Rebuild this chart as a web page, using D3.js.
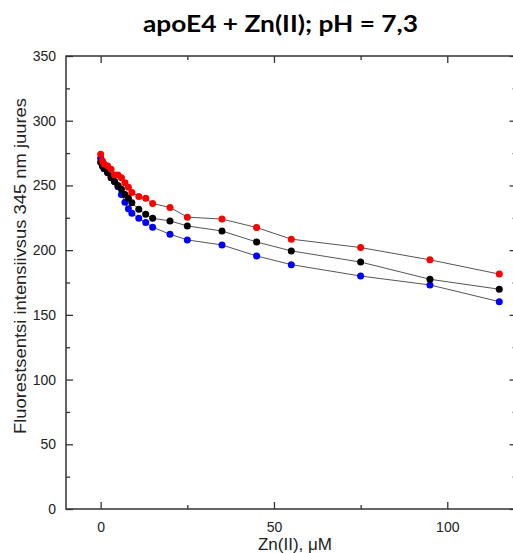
<!DOCTYPE html>
<html>
<head>
<meta charset="utf-8">
<script src="https://cdn.jsdelivr.net/npm/d3@7"></script>
<style>
  html, body { margin: 0; padding: 0; background: #fff; }
  svg { display: block; }
</style>
</head>
<body>
<div id="chart"></div>
<script>
// ---- data ----
const zincConc = [0, 0.5, 1, 2, 3, 4, 5, 6, 7, 8, 9, 11, 13, 15, 20, 25, 35, 45, 55, 75, 95, 115];
const redSeries   = [274, 269, 266.5, 265, 262.5, 258, 258, 256, 252, 248.5, 244.5, 241.5, 240, 236, 233, 225.5, 224, 217.5, 208.5, 202, 192.5, 181.5];
const blackSeries = [268, 265, 263, 260, 256, 253, 250, 247, 243, 240, 236.7, 231.6, 227.7, 224.6, 222.6, 218.7, 214.8, 206.3, 199.4, 190.8, 177.5, 169.8];
const blueSeries  = [271, 266, 263, 260, 257, 253, 249, 243, 237, 232, 228.5, 224.6, 221.3, 217.7, 212.3, 207.9, 204, 195.5, 188.8, 180, 173.1, 160.2];
const xTicks = [0, 50, 100];
const xMinorTicks = [25, 75];
const yTicks = [0, 50, 100, 150, 200, 250, 300, 350];
const yMinorTicks = [25, 75, 125, 175, 225, 275, 325];
const titleText = "apoE4 + Zn(II); pH = 7,3";
const xLabel = "Zn(II), μM";
const yLabel = "Fluorestsentsi intensiivsus 345 nm juures";

const W = 513, H = 553;
const pLeft = 66, pRight = 516.6, pTop = 56, pBottom = 509;

const svg = d3.select("#chart").append("svg").attr("width", W).attr("height", H);

const x = d3.scaleLinear().domain([-10, 120]).range([pLeft, pRight]);
const y = d3.scaleLinear().domain([0, 350]).range([pBottom, pTop]);

// title
svg.append("text").attr("x", 280.5).attr("y", 32).attr("text-anchor", "middle")
  .attr("font-family", "Lato, 'Open Sans', sans-serif").attr("font-weight", "bold")
  .attr("font-size", 23).attr("textLength", 275).attr("lengthAdjust", "spacingAndGlyphs")
  .attr("fill", "#000").text(titleText);

const axisColor = "#333";
function styleAxis(g) {
  g.select(".domain").remove();
  g.selectAll(".tick line").attr("stroke", axisColor).attr("stroke-width", 1.3);
  g.selectAll("text").attr("font-family", "'Liberation Sans', Arial, sans-serif").attr("fill", "#222");
}

// bottom
svg.append("g").attr("transform", `translate(0,${pBottom})`)
  .call(d3.axisBottom(x).tickValues(xTicks).tickSize(-7).tickPadding(13).tickFormat(d3.format("d")))
  .call(styleAxis).call(g => g.selectAll("text").attr("font-size", 14));
svg.append("g").attr("transform", `translate(0,${pBottom})`)
  .call(d3.axisBottom(x).tickValues(xMinorTicks).tickSize(-4).tickFormat(""))
  .call(styleAxis);
// top
svg.append("g").attr("transform", `translate(0,${pTop})`)
  .call(d3.axisTop(x).tickValues(xTicks).tickSize(-7).tickFormat(""))
  .call(styleAxis);
svg.append("g").attr("transform", `translate(0,${pTop})`)
  .call(d3.axisTop(x).tickValues(xMinorTicks).tickSize(-4).tickFormat(""))
  .call(styleAxis);
// left
svg.append("g").attr("transform", `translate(${pLeft},0)`)
  .call(d3.axisLeft(y).tickValues(yTicks).tickSize(-7).tickPadding(10).tickFormat(d3.format("d")))
  .call(styleAxis).call(g => g.selectAll("text").attr("font-size", 14));
svg.append("g").attr("transform", `translate(${pLeft},0)`)
  .call(d3.axisLeft(y).tickValues(yMinorTicks).tickSize(-4).tickFormat(""))
  .call(styleAxis);
// right
svg.append("g").attr("transform", `translate(${pRight},0)`)
  .call(d3.axisRight(y).tickValues(yTicks).tickSize(-7).tickFormat(""))
  .call(styleAxis);
svg.append("g").attr("transform", `translate(${pRight},0)`)
  .call(d3.axisRight(y).tickValues(yMinorTicks).tickSize(-4).tickFormat(""))
  .call(styleAxis);

// frame
svg.append("rect").attr("x", pLeft).attr("y", pTop).attr("width", pRight - pLeft).attr("height", pBottom - pTop)
  .attr("fill", "none").attr("stroke", axisColor).attr("stroke-width", 1.5);

// axis titles
svg.append("text").attr("x", 295).attr("y", 550).attr("text-anchor", "middle")
  .attr("font-family", "'Liberation Sans', Arial, sans-serif").attr("font-size", 17).attr("fill", "#222")
  .text(xLabel);
svg.append("text").attr("transform", "translate(26,266) rotate(-90)").attr("text-anchor", "middle")
  .attr("font-family", "'Liberation Sans', Arial, sans-serif").attr("font-size", 16)
  .attr("textLength", 336).attr("lengthAdjust", "spacingAndGlyphs").attr("fill", "#222")
  .text(yLabel);

// series
const series = [
  { values: blueSeries, color: "#0000ff" },
  { values: blackSeries, color: "#000000" },
  { values: redSeries, color: "#ff0000" }
];
const line = d3.line().x(d => x(d[0])).y(d => y(d[1]));
series.forEach(s => {
  const pts = zincConc.map((c, i) => [c, s.values[i]]);
  svg.append("path").datum(pts).attr("d", line).attr("fill", "none")
    .attr("stroke", "#555").attr("stroke-width", 1);
});
series.forEach(s => {
  const pts = zincConc.map((c, i) => [c, s.values[i]]);
  svg.append("g").selectAll("circle").data(pts).join("circle")
    .attr("cx", d => x(d[0])).attr("cy", d => y(d[1])).attr("r", 3.5)
    .attr("fill", s.color);
});
</script>
</body>
</html>
